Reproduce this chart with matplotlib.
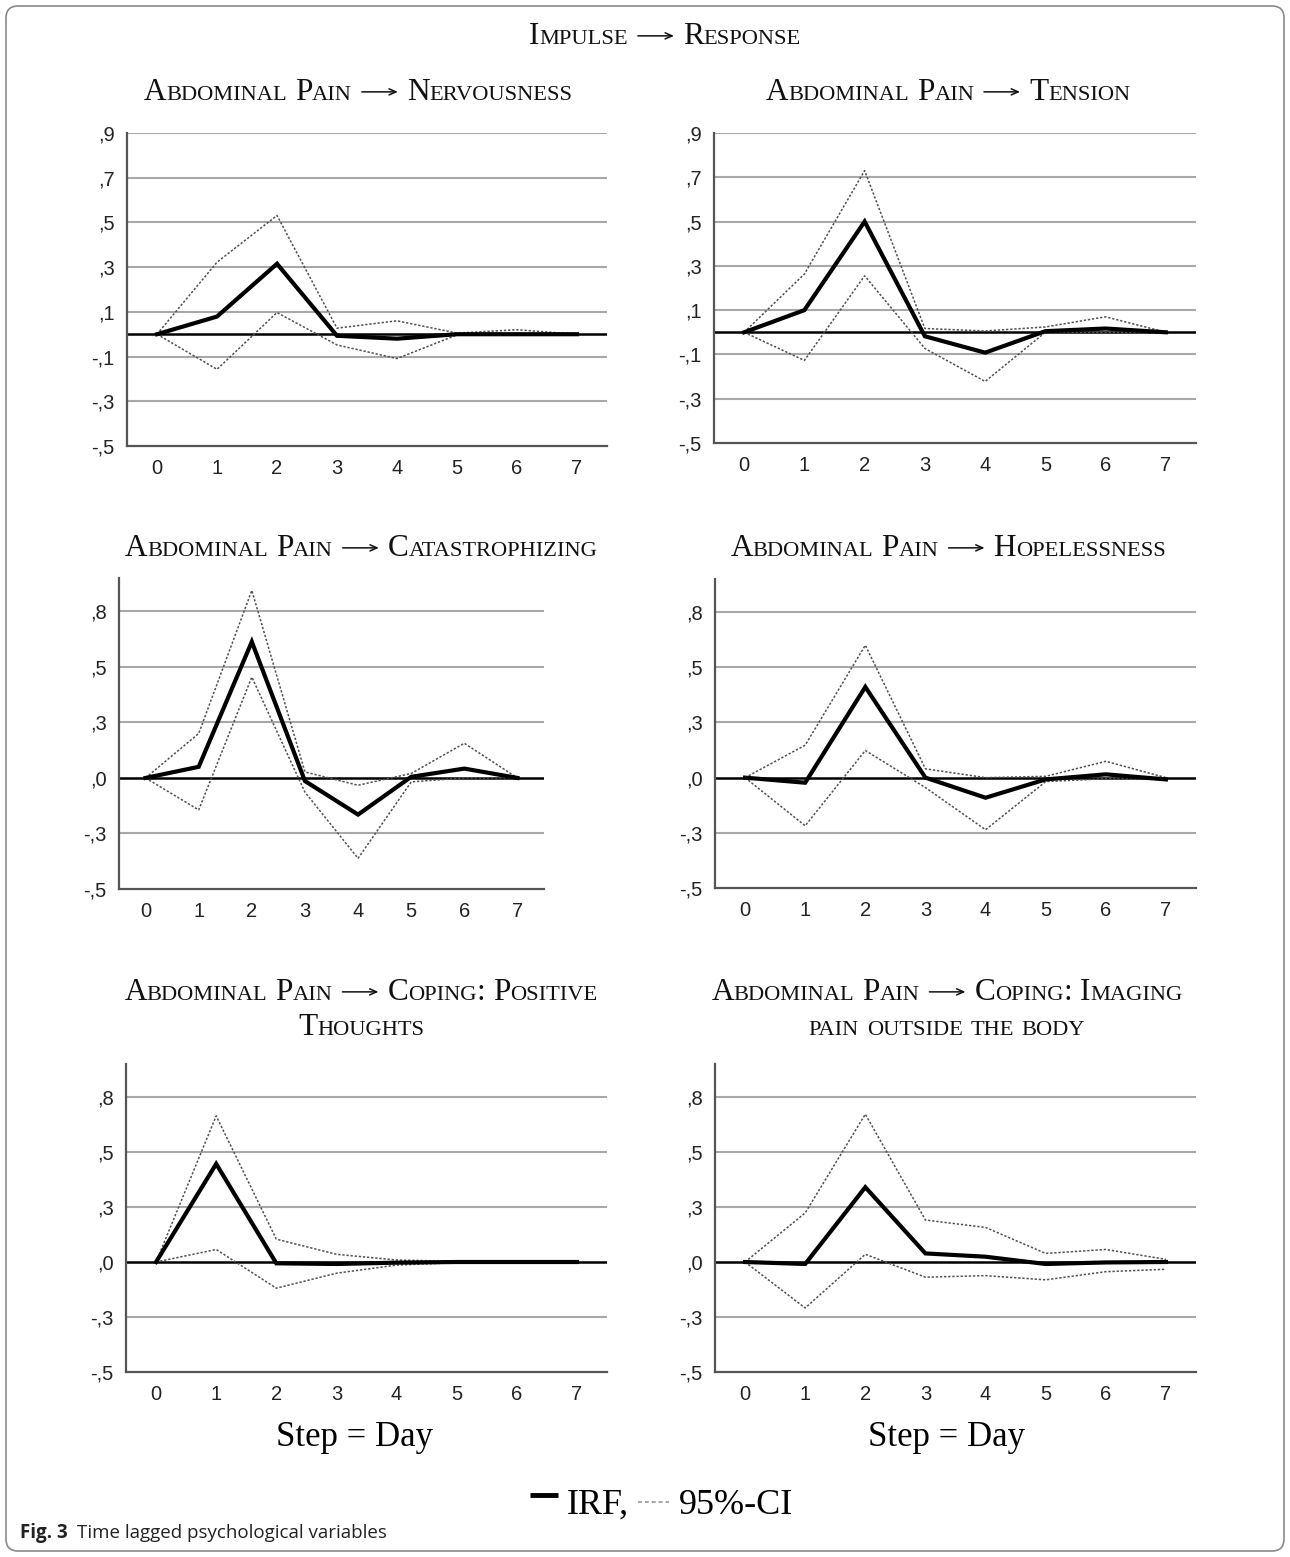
import matplotlib
matplotlib.use("Agg")
import matplotlib.pyplot as plt
from matplotlib.patches import FancyBboxPatch

W, H = 1290, 1557
SERIF = ['Liberation Serif', 'DejaVu Serif']
SANS = ['Liberation Sans', 'DejaVu Sans']

steps = [0, 1, 2, 3, 4, 5, 6, 7]

# impulse: abdominal pain -> response (IRF, upper / lower 95%-CI)
irf_nerv = [0, 0.079, 0.315, -0.007, -0.020, 0.0, 0.0, 0.0]
up_nerv = [0, 0.322, 0.531, 0.027, 0.060, 0.005, 0.020, 0.0]
lo_nerv = [0, -0.157, 0.097, -0.048, -0.109, -0.003, 0.0, 0.0]

irf_tens = [0, 0.100, 0.500, -0.018, -0.092, 0.005, 0.017, 0.0]
up_tens = [0, 0.263, 0.730, 0.017, 0.006, 0.024, 0.070, 0.0]
lo_tens = [0, -0.127, 0.255, -0.073, -0.222, 0.0, 0.0, 0.0]

irf_cata = [0, 0.050, 0.613, -0.014, -0.165, 0.005, 0.042, 0.0]
up_cata = [0, 0.200, 0.844, 0.027, -0.033, 0.020, 0.156, 0.0]
lo_cata = [0, -0.144, 0.454, -0.064, -0.362, -0.018, 0.0, 0.0]

irf_hope = [0, -0.023, 0.411, 0.0, -0.091, -0.008, 0.015, -0.008]
up_hope = [0, 0.147, 0.600, 0.040, 0.0, 0.006, 0.074, 0.0]
lo_hope = [0, -0.218, 0.123, -0.045, -0.236, -0.018, -0.005, -0.009]

irf_posi = [0, 0.446, -0.006, -0.009, -0.003, 0.0, 0.0, 0.0]
up_posi = [0, 0.664, 0.104, 0.035, 0.009, 0.003, 0.002, 0.0]
lo_posi = [0, 0.057, -0.119, -0.051, -0.014, -0.003, -0.002, 0.0]

irf_imag = [0, -0.009, 0.340, 0.039, 0.024, -0.009, -0.002, 0.0]
up_imag = [0, 0.223, 0.672, 0.191, 0.157, 0.039, 0.057, 0.012]
lo_imag = [0, -0.209, 0.035, -0.069, -0.062, -0.081, -0.044, -0.033]

yt_a = [0.9, 0.7, 0.5, 0.3, 0.1, -0.1, -0.3, -0.5]
yl_a = [',9', ',7', ',5', ',3', ',1', '-,1', '-,3', '-,5']
yt_b = [0.75, 0.5, 0.25, 0.0, -0.25, -0.5]
yl_b = [',8', ',5', ',3', ',0', '-,3', '-,5']

titles = ['Abdominal Pain → Nervousness', 'Abdominal Pain → Tension',
          'Abdominal Pain → Catastrophizing', 'Abdominal Pain → Hopelessness',
          'Abdominal Pain → Coping: Positive\nThoughts',
          'Abdominal Pain → Coping: Imaging\npain outside the body']

series = [(irf_nerv, up_nerv, lo_nerv), (irf_tens, up_tens, lo_tens),
          (irf_cata, up_cata, lo_cata), (irf_hope, up_hope, lo_hope),
          (irf_posi, up_posi, lo_posi), (irf_imag, up_imag, lo_imag)]

# panel boxes in pixels: left, top, right, bottom
boxes = [(127, 133, 607, 446), (714, 133, 1196, 443),
         (119, 578, 544, 889), (715, 579, 1196, 888),
         (126, 1064, 607, 1372), (715, 1064, 1196, 1372)]
title_pos = [(358, 100), (948, 100), (361, 556), (948, 556), (361, 1000), (947, 1000)]

fig = plt.figure(figsize=(12.9, 15.57), dpi=100)
bg = fig.add_axes([0, 0, 1, 1], zorder=-1)
bg.set_xlim(0, W); bg.set_ylim(H, 0); bg.axis('off')
bg.add_patch(FancyBboxPatch((6, 6), W - 12, H - 12, boxstyle='round,pad=0,rounding_size=12',
                            fc='white', ec='#8a8a8a', lw=1.2))
rend = fig.canvas.get_renderer()


def smallcaps(cx, base, s, size, ratio=0.72):
    """small caps by hand: upper case at full size, lower case shrunk"""
    toks = []
    for ch in s:
        if ch == ' ':
            kind = 'sp'
        elif ch == '→':
            kind = 'arrow'
        else:
            kind = 'lo' if ch.islower() else 'up'
        if toks and toks[-1][1] == kind and kind in ('lo', 'up'):
            toks[-1][0] += ch
        else:
            toks.append([ch, kind])
    px = size * 100 / 72
    gap = px * 0.25
    aw = px * 1.25
    items, total = [], 0
    for txt, kind in toks:
        if kind == 'sp':
            items.append((None, gap)); total += gap; continue
        if kind == 'arrow':
            items.append(('arrow', aw)); total += aw; continue
        t = bg.text(0, base, txt.upper(), fontsize=size * ratio if kind == 'lo' else size,
                    family=SERIF, va='baseline', ha='left', color='#111')
        w = t.get_window_extent(rend).width
        items.append((t, w)); total += w
    x = cx - total / 2
    for t, w in items:
        if t == 'arrow':
            ya = base - px * 0.26
            bg.annotate('', xy=(x + w - 1, ya), xytext=(x + 2, ya),
                        arrowprops=dict(arrowstyle='->,head_length=0.5,head_width=0.22',
                                        lw=1.1, color='#111', shrinkA=0, shrinkB=0))
        elif t is not None:
            t.set_x(x)
        x += w


smallcaps(665, 44, 'Impulse → Response', 22.5)

for i, (box, (irf, up, lo)) in enumerate(zip(boxes, series)):
    l, t, r, b = box
    ax = fig.add_axes([l / W, 1 - b / H, (r - l) / W, (b - t) / H])
    yt, yl = (yt_a, yl_a) if i < 2 else (yt_b, yl_b)
    ax.set_xlim(-0.5, 7.5)
    ax.set_ylim(-0.5, 0.9)
    for v in yt:
        if v not in (0.0, -0.5):
            ax.axhline(v, color='#a8a8a8', lw=1.5, zorder=1)
    ax.axhline(0, color='black', lw=1.8, zorder=2)
    ax.plot(steps, up, color='#505050', lw=1.1, ls=(0, (1.5, 1.2)), zorder=3)
    ax.plot(steps, lo, color='#505050', lw=1.1, ls=(0, (1.5, 1.2)), zorder=3)
    ax.plot(steps, irf, color='black', lw=3, solid_joinstyle='miter', zorder=4)
    ax.set_yticks(yt)
    ax.set_yticklabels(yl)
    ax.set_xticks(steps)
    ax.tick_params(length=0, labelsize=14.5, colors='#222222', pad=9)
    for lab in ax.get_xticklabels() + ax.get_yticklabels():
        lab.set_family(SANS)
    for s in ['top', 'right']:
        ax.spines[s].set_visible(False)
    for s in ['left', 'bottom']:
        ax.spines[s].set_color('#555555')
        ax.spines[s].set_linewidth(1.6)
    ax.patch.set_alpha(0)
    cx, base = title_pos[i]
    for k, line in enumerate(titles[i].split('\n')):
        smallcaps(cx, base + 35 * k, line, 22.5)

for cx in (355, 947):
    bg.text(cx, 1446, 'Step = Day', fontsize=25, family=SERIF, ha='center', va='baseline')

# legend: thick black dash, "IRF,", grey dashes, "95%-CI"
x = 530
bg.plot([x, x + 28], [1495, 1495], color='black', lw=3.5, solid_capstyle='butt')
x += 37
t = bg.text(x, 1514, 'IRF,', fontsize=26, family=SERIF, va='baseline')
x += t.get_window_extent(rend).width + 9
bg.plot([x, x + 31], [1502, 1502], color='#a0a0a0', lw=1.3, ls=(0, (2.2, 1.6)))
x += 41
bg.text(x, 1514, '95%-CI', fontsize=26, family=SERIF, va='baseline')

fb = bg.text(20, 1538, 'Fig. 3', fontsize=13.5, family=['Open Sans', 'DejaVu Sans'],
             weight='bold', va='baseline', color='#222')
wf = fb.get_window_extent(rend).width
bg.text(20 + wf + 9, 1538, 'Time lagged psychological variables', fontsize=13.5,
        family=['Open Sans', 'DejaVu Sans'], va='baseline', color='#222')

fig.savefig('out.png', dpi=100)
